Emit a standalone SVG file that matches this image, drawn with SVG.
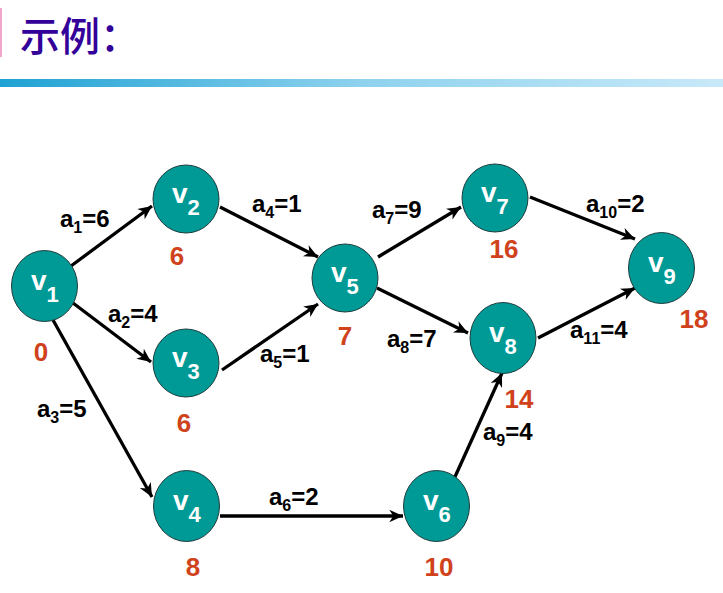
<svg xmlns="http://www.w3.org/2000/svg" width="723" height="593" viewBox="0 0 723 593">
<defs>
<linearGradient id="bar" x1="0" y1="0" x2="1" y2="0">
<stop offset="0" stop-color="#1EA2D3"/>
<stop offset="0.5" stop-color="#8ED2EE"/>
<stop offset="1" stop-color="#C8E9F9"/>
</linearGradient>
<marker id="arr" markerUnits="userSpaceOnUse" markerWidth="16" markerHeight="16" viewBox="-13 -7 14 14" refX="0" refY="0" orient="auto">
<path d="M0,0 L-12,-5.5 L-8.5,0 L-12,5.5 Z" fill="#000"/>
</marker>
<style>
.node{fill:#009A96;stroke:#1E3C3C;stroke-width:1}
.vl{font-family:"Liberation Sans",Arial,sans-serif;font-weight:bold;fill:#fff;font-size:28px}
.vs{font-size:22px}
.num{font-family:"Liberation Sans",Arial,sans-serif;font-weight:bold;fill:#D0421B;font-size:26px;text-anchor:middle}
.el{font-family:"Liberation Sans",Arial,sans-serif;font-weight:bold;fill:#000;font-size:24px}
.es{font-size:16px}
.edge{stroke:#000;stroke-width:3.3;fill:none;marker-end:url(#arr)}
</style>
</defs>
<rect width="723" height="593" fill="#fff"/>
<rect x="0" y="8" width="2" height="49" fill="#F2A6CC"/>
<text x="20" y="51" font-family="'Noto Sans CJK SC',sans-serif" font-size="40" font-weight="500" fill="#330099">示例：</text>
<rect x="0" y="79" width="723" height="8" fill="url(#bar)"/>

<g id="connectors">
<line class="edge" x1="71" y1="266" x2="152" y2="206"/>
<line class="edge" x1="73" y1="303" x2="151" y2="362"/>
<line class="edge" x1="53" y1="320" x2="152" y2="497"/>
<line class="edge" x1="220" y1="207" x2="318" y2="257"/>
<line class="edge" x1="222" y1="370" x2="318" y2="304"/>
<line class="edge" x1="220" y1="516" x2="403" y2="516"/>
<line class="edge" x1="378" y1="257" x2="461" y2="207"/>
<line class="edge" x1="377" y1="288" x2="468" y2="333"/>
<line class="edge" x1="454" y1="479" x2="502" y2="373"/>
<line class="edge" x1="530" y1="197" x2="635" y2="239"/>
<line class="edge" x1="538" y1="338" x2="635" y2="288"/>
</g>

<g id="edge-labels">
<text class="el" x="60" y="227">a<tspan class="es" dy="6">1</tspan><tspan dy="-6">=6</tspan></text>
<text class="el" x="108" y="322">a<tspan class="es" dy="6">2</tspan><tspan dy="-6">=4</tspan></text>
<text class="el" x="37" y="417">a<tspan class="es" dy="6">3</tspan><tspan dy="-6">=5</tspan></text>
<text class="el" x="252" y="212">a<tspan class="es" dy="6">4</tspan><tspan dy="-6">=1</tspan></text>
<text class="el" x="260" y="362">a<tspan class="es" dy="6">5</tspan><tspan dy="-6">=1</tspan></text>
<text class="el" x="269" y="505">a<tspan class="es" dy="6">6</tspan><tspan dy="-6">=2</tspan></text>
<text class="el" x="372" y="218">a<tspan class="es" dy="6">7</tspan><tspan dy="-6">=9</tspan></text>
<text class="el" x="387" y="347">a<tspan class="es" dy="6">8</tspan><tspan dy="-6">=7</tspan></text>
<text class="el" x="483" y="440">a<tspan class="es" dy="6">9</tspan><tspan dy="-6">=4</tspan></text>
<text class="el" x="586" y="212">a<tspan class="es" dy="6">10</tspan><tspan dy="-6">=2</tspan></text>
<text class="el" x="570" y="338">a<tspan class="es" dy="6">11</tspan><tspan dy="-6">=4</tspan></text>
</g>

<g id="v1"><ellipse class="node" cx="44.5" cy="286" rx="33" ry="35.5"/><text class="vl" x="31" y="290">v<tspan class="vs" dy="12">1</tspan></text><text class="num" x="41" y="361">0</text></g>
<g id="v2"><ellipse class="node" cx="186" cy="199" rx="33" ry="34"/><text class="vl" x="172" y="203">v<tspan class="vs" dy="12">2</tspan></text><text class="num" x="177" y="265">6</text></g>
<g id="v3"><ellipse class="node" cx="186" cy="363" rx="33" ry="34"/><text class="vl" x="172" y="367">v<tspan class="vs" dy="12">3</tspan></text><text class="num" x="184" y="432">6</text></g>
<g id="v4"><ellipse class="node" cx="186.5" cy="506" rx="33" ry="35.5"/><text class="vl" x="173" y="510">v<tspan class="vs" dy="12">4</tspan></text><text class="num" x="193" y="576">8</text></g>
<g id="v5"><ellipse class="node" cx="345" cy="278" rx="33" ry="34"/><text class="vl" x="331" y="282">v<tspan class="vs" dy="12">5</tspan></text><text class="num" x="345" y="345">7</text></g>
<g id="v6"><ellipse class="node" cx="436.5" cy="506" rx="33" ry="35.5"/><text class="vl" x="423" y="510">v<tspan class="vs" dy="12">6</tspan></text><text class="num" x="439" y="576">10</text></g>
<g id="v7"><ellipse class="node" cx="495" cy="198" rx="33" ry="34"/><text class="vl" x="481" y="202">v<tspan class="vs" dy="12">7</tspan></text><text class="num" x="504" y="258">16</text></g>
<g id="v8"><ellipse class="node" cx="503" cy="338" rx="33" ry="35.5"/><text class="vl" x="489" y="342">v<tspan class="vs" dy="12">8</tspan></text><text class="num" x="519" y="408">14</text></g>
<g id="v9"><ellipse class="node" cx="661.5" cy="268" rx="33" ry="35.5"/><text class="vl" x="648" y="272">v<tspan class="vs" dy="12">9</tspan></text><text class="num" x="694" y="328">18</text></g>
</svg>
